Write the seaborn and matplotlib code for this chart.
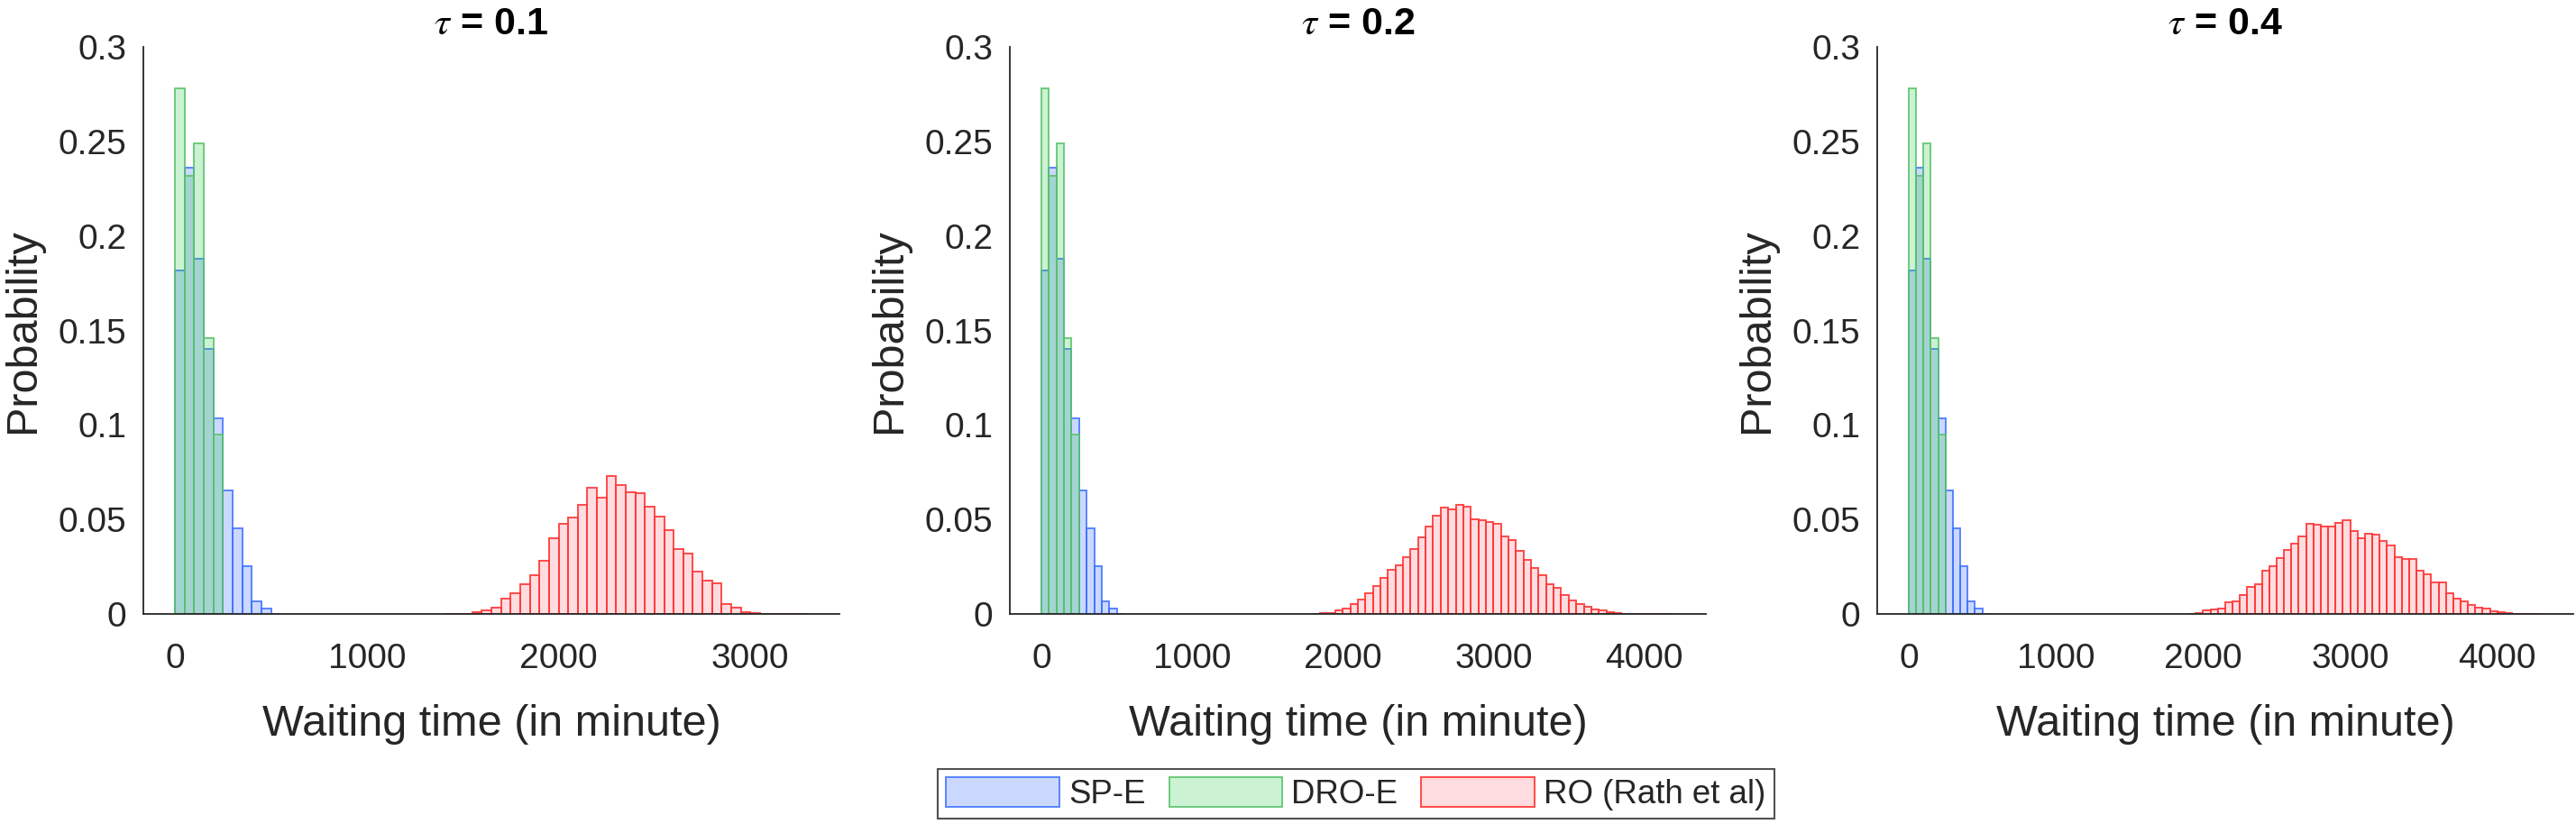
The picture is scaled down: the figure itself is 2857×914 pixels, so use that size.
import numpy as np
import pandas as pd
import matplotlib
matplotlib.use('Agg')
import matplotlib.pyplot as plt
from matplotlib.patches import Patch
from matplotlib.ticker import FuncFormatter, MultipleLocator
import seaborn as sns

# --- data: probability per 50-minute bin ---
bin_width = 50
taus = ['0.1', '0.2', '0.4']

sp_start = 0
sp_probs = [0.1819, 0.2363, 0.1880, 0.1403, 0.1035, 0.0655, 0.0453, 0.0253,
            0.0065, 0.0028, 0.0002]

dro_start = 0
dro_probs = [0.2783, 0.2316, 0.2492, 0.1461, 0.0950]

ro_starts = [1400, 1800, 1900]
ro_tau01 = [0.0001, 0.0001, 0.0001, 0.0010, 0.0020, 0.0035, 0.0081, 0.0110,
            0.0156, 0.0203, 0.0281, 0.0403, 0.0479, 0.0510, 0.0579, 0.0667,
            0.0616, 0.0729, 0.0683, 0.0643, 0.0639, 0.0567, 0.0513, 0.0446,
            0.0342, 0.0320, 0.0226, 0.0178, 0.0161, 0.0054, 0.0033, 0.0011,
            0.0006, 0.0002, 0.0002, 0.0001, 0.0001, 0.0001]
ro_tau02 = [0.0002, 0.0003, 0.0006, 0.0018, 0.0030, 0.0053, 0.0075, 0.0109,
            0.0147, 0.0192, 0.0232, 0.0256, 0.0300, 0.0342, 0.0404, 0.0462,
            0.0518, 0.0564, 0.0554, 0.0577, 0.0569, 0.0500, 0.0494, 0.0486,
            0.0476, 0.0409, 0.0390, 0.0332, 0.0286, 0.0244, 0.0203, 0.0158,
            0.0137, 0.0102, 0.0073, 0.0051, 0.0038, 0.0022, 0.0018, 0.0010,
            0.0005, 0.0002, 0.0001, 0.0001, 0.0001, 0.0001, 0.0001, 0.0001]
ro_tau04 = [0.0002, 0.0005, 0.0019, 0.0024, 0.0030, 0.0062, 0.0069, 0.0100,
            0.0145, 0.0158, 0.0230, 0.0252, 0.0297, 0.0339, 0.0372, 0.0411,
            0.0478, 0.0473, 0.0465, 0.0465, 0.0482, 0.0494, 0.0438, 0.0403,
            0.0425, 0.0422, 0.0388, 0.0364, 0.0302, 0.0291, 0.0291, 0.0230,
            0.0208, 0.0165, 0.0169, 0.0109, 0.0083, 0.0065, 0.0050, 0.0035,
            0.0030, 0.0014, 0.0011, 0.0006, 0.0002, 0.0001, 0.0001, 0.0001]
ro_series = [ro_tau01, ro_tau02, ro_tau04]
xlims = [(-165, 3465), (-210, 4410), (-215, 4515)]

labels = ['SP-E', 'DRO-E', 'RO (Rath et al)']

# --- style ---
sns.set_style('white')
plt.rcParams['font.family'] = ['Liberation Sans', 'DejaVu Sans']
plt.rcParams['mathtext.fontset'] = 'stix'

dark = '#262626'
sp_face, sp_edge = (0.2, 0.4, 1.0, 0.25), (0.25, 0.45, 1.0, 0.85)
dro_face, dro_edge = (0.2, 0.8, 0.3, 0.25), (0.35, 0.76, 0.42, 0.85)
ro_face, ro_edge = (1.0, 0.556, 0.595, 0.3), (1.0, 0.22, 0.22, 0.9)
lw = 1.4


def draw_hist(ax, start, probs, face, edge):
    edges = start + bin_width * np.arange(len(probs) + 1)
    df = pd.DataFrame({'t': edges[:-1] + bin_width / 2, 'p': probs})
    sns.histplot(data=df, x='t', weights='p', bins=list(edges), stat='count',
                 element='bars', fill=True, facecolor=face, edgecolor=edge,
                 linewidth=lw, ax=ax)


fig = plt.figure(figsize=(28.57, 9.14), dpi=100)
lefts = [0.0557, 0.392, 0.7287]

for i, left in enumerate(lefts):
    ax = fig.add_axes([left, 0.2549, 0.2702, 0.6882])
    draw_hist(ax, sp_start, sp_probs, sp_face, sp_edge)
    draw_hist(ax, dro_start, dro_probs, dro_face, dro_edge)
    draw_hist(ax, ro_starts[i], ro_series[i], ro_face, ro_edge)

    ax.set_xlim(*xlims[i])
    ax.set_ylim(0, 0.3)
    ax.xaxis.set_major_locator(MultipleLocator(1000))
    ax.yaxis.set_major_locator(MultipleLocator(0.05))
    ax.yaxis.set_major_formatter(FuncFormatter(lambda v, p: f'{v:g}'))

    sns.despine(ax=ax)
    for s in ['left', 'bottom']:
        ax.spines[s].set_color(dark)
        ax.spines[s].set_linewidth(1.3)
    ax.tick_params(axis='both', direction='in', length=7, width=1.3,
                   colors=dark, labelsize=28)
    ax.tick_params(axis='x', pad=23)
    ax.tick_params(axis='y', pad=13.5)

    ax.set_xlabel('Waiting time (in minute)', fontsize=35, color=dark,
                  va='baseline')
    ax.xaxis.set_label_coords(0.5, -0.215)
    ax.set_ylabel('Probability', fontsize=35, color=dark, va='baseline')
    ax.yaxis.set_label_coords(-0.1567, 0.5)
    ax.set_title(r'$\tau$ = ' + taus[i], fontsize=31, fontweight='bold',
                 color='black', pad=10)

handles = [Patch(facecolor=sp_face, edgecolor=sp_edge, linewidth=lw),
           Patch(facecolor=dro_face, edgecolor=dro_edge, linewidth=lw),
           Patch(facecolor=ro_face, edgecolor=ro_edge, linewidth=lw)]
leg = fig.legend(handles, labels, loc='center', bbox_to_anchor=(0.5264, 0.0366),
                 ncol=3, fontsize=26.4, frameon=True, fancybox=False,
                 handlelength=3.43, handleheight=0.98, handletextpad=0.27,
                 columnspacing=0.71, borderpad=0.25, borderaxespad=0)
leg.get_frame().set_edgecolor(dark)
leg.get_frame().set_linewidth(1.5)

fig.savefig('out.png', dpi=100, facecolor='white')
